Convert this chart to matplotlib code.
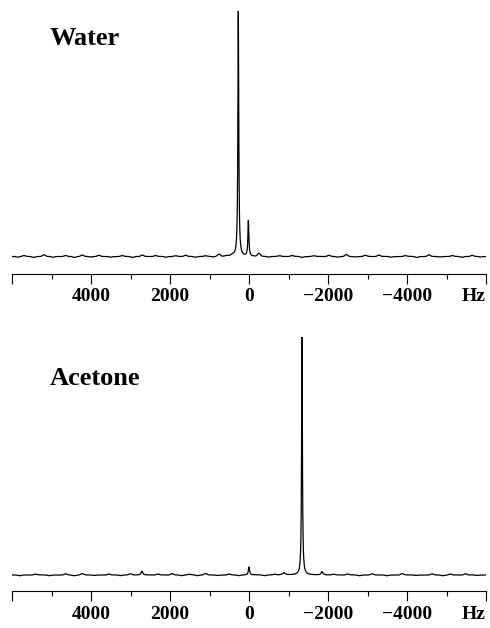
import numpy as np
import matplotlib
matplotlib.use("Agg")
import matplotlib.pyplot as plt
from matplotlib.ticker import FixedLocator, FixedFormatter

plt.rcParams.update({
    "font.family": "serif",
    "font.serif": ["Liberation Serif", "DejaVu Serif"],
    "font.weight": "bold",
})

# spectral window (Hz), reversed like an NMR axis
x_range = (6000, -6000)
major_ticks = [6000, 4000, 2000, 0, -2000, -4000, -6000]
major_labels = ["", "4000", "2000", "0", "\u22122000", "\u22124000", ""]
minor_ticks = [5000, 3000, 1000, -1000, -3000, -5000]

# peaks: position (Hz), relative height, half width (Hz)
water_pos = [270, 15]
water_height = [1.0, 0.146]
water_hw = [13, 14]

acetone_pos = [-1342, 0, 2709, -1850, -886]
acetone_height = [1.0, 0.034, 0.016, 0.014, 0.009]
acetone_hw = [12, 18, 25, 25, 40]

# baseline ripples (Hz, relative height), estimated from the trace
water_ripple_pos = [5850, 5696, 5450, 5190, 4950, 4641, 4420, 4220, 4000, 3797, 3500, 3207,
                    2950, 2700, 2363, 2100, 1850, 1603, 1350, 1097, 900, 760, 560, 420,
                    -253, -500, -780, -1097, -1350, -1650, -2025, -2250, -2464, -2700,
                    -2954, -3291, -3600, -3966, -4250, -4557, -4850, -5148, -5400, -5654, -5880]
water_ripple_h = [-0.003, 0.004, -0.004, 0.007, -0.003, 0.004, -0.004, 0.006, -0.002, 0.005,
                  -0.003, 0.004, -0.004, 0.006, 0.004, -0.003, 0.003, 0.005, -0.003, 0.003,
                  -0.002, 0.009, 0.003, 0.005,
                  0.012, -0.003, 0.003, 0.004, -0.004, 0.003, 0.005, -0.003, 0.008, -0.002,
                  0.005, 0.006, -0.003, 0.004, -0.004, 0.007, -0.002, 0.004, -0.003, 0.005, -0.002]

acetone_ripple_pos = [5800, 5400, 5050, 4640, 4420, 4220, 3900, 3544, 3250, 3000, 2300,
                      1940, 1700, 1500, 1300, 1097, 800, 500, 250, -400, -650,
                      -2150, -2500, -2800, -3122, -3500, -3882, -4250, -4641, -4900,
                      -5100, -5485, -5800]
acetone_ripple_h = [-0.003, 0.004, -0.003, 0.005, -0.003, 0.006, -0.002, 0.004, -0.003, 0.005,
                    0.004, 0.006, -0.003, 0.003, -0.003, 0.006, -0.002, 0.004, -0.003, -0.003,
                    0.003, 0.003, 0.004, -0.003, 0.005, -0.003, 0.006, -0.002, 0.005, -0.003,
                    0.004, 0.005, -0.002]


def spectrum(hz, pos, height, hw, rpos, rh):
    y = np.zeros_like(hz)
    for p, h, w in zip(pos, height, hw):
        y += h / (1 + ((hz - p) / w) ** 2)
    for p, h in zip(rpos, rh):
        y += h * np.exp(-0.5 * ((hz - p) / 35) ** 2)
    return y


hz = np.linspace(-6000, 6000, 6001)
water = spectrum(hz, water_pos, water_height, water_hw, water_ripple_pos, water_ripple_h)
acetone = spectrum(hz, acetone_pos, acetone_height, acetone_hw, acetone_ripple_pos, acetone_ripple_h)

W, H = 490, 628
fig = plt.figure(figsize=(W / 100, H / 100), dpi=100)

panels = [
    # name, data, spine y (px), peak top y (px), baseline y (px), label baseline y (px)
    ("Water", water, 273.5, 11, 256.5, 45),
    ("Acetone", acetone, 591.0, 337, 575.0, 385),
]

for name, y, spine_px, top_px, base_px, lab_px in panels:
    left, right = 12, 486
    ax = fig.add_axes([left / W, 1 - spine_px / H, (right - left) / W, (spine_px - top_px) / H])
    ax.plot(hz, y, color="black", lw=0.9)
    lo = -(spine_px - base_px) / (base_px - top_px)
    ax.set_ylim(lo, 1.0)
    ax.set_xlim(*x_range)

    for s in ["top", "left", "right"]:
        ax.spines[s].set_visible(False)
    ax.spines["bottom"].set_linewidth(0.8)
    ax.set_yticks([])
    ax.xaxis.set_major_locator(FixedLocator(major_ticks))
    ax.xaxis.set_major_formatter(FixedFormatter(major_labels))
    ax.xaxis.set_minor_locator(FixedLocator(minor_ticks))
    ax.tick_params(axis="x", which="major", length=7.2, width=0.8, pad=3.5, labelsize=14)
    ax.tick_params(axis="x", which="minor", length=3.6, width=0.8)
    for t in ax.get_xticklabels():
        t.set_fontweight("bold")

    ax.annotate("Hz", xy=(1, 0), xycoords="axes fraction", xytext=(0, -10.7),
                textcoords="offset points", ha="right", va="top",
                fontsize=14, fontweight="bold")

    fig.text(50 / W, 1 - lab_px / H, name, fontsize=19, fontweight="bold",
             ha="left", va="baseline")

fig.savefig("out.png", dpi=100, facecolor="white")
